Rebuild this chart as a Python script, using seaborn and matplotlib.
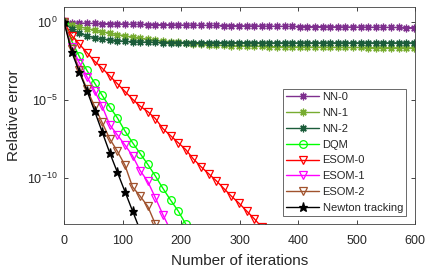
"""
Relative error vs. iterations (log scale) for the NN / DQM / ESOM / Newton tracking runs
"""

import matplotlib
matplotlib.use('Agg')
import matplotlib.pyplot as plt
import seaborn as sns
import numpy as np
import pandas as pd
from matplotlib.ticker import FixedLocator, LogFormatterSciNotation

# x positions of the plotted points (one marker every 13 iterations)
step = 13

# log10 of relative error
nn0 = [0.0, -0.03, -0.05, -0.06, -0.07, -0.08, -0.09, -0.10, -0.11, -0.12,
       -0.13, -0.14, -0.15, -0.15, -0.16, -0.17, -0.18, -0.18, -0.19, -0.20,
       -0.20, -0.21, -0.22, -0.22, -0.23, -0.23, -0.24, -0.25, -0.25, -0.26,
       -0.26, -0.27, -0.27, -0.28, -0.28, -0.29, -0.29, -0.30, -0.30, -0.31,
       -0.31, -0.32, -0.32, -0.33, -0.33, -0.34, -0.35]
nn1 = [0.0, -0.15, -0.28, -0.40, -0.50, -0.60, -0.70, -0.79, -0.87, -0.95,
       -1.02, -1.09, -1.15, -1.20, -1.25, -1.29, -1.33, -1.37, -1.41, -1.44,
       -1.47, -1.49, -1.51, -1.52, -1.53, -1.54, -1.55, -1.56, -1.57, -1.57,
       -1.58, -1.59, -1.59, -1.60, -1.60, -1.61, -1.61, -1.62, -1.62, -1.62,
       -1.63, -1.63, -1.63, -1.64, -1.64, -1.64, -1.65]
nn2 = [0.0, -0.45, -0.70, -0.87, -0.99, -1.07, -1.13, -1.18, -1.22, -1.25,
       -1.27, -1.28, -1.29, -1.30, -1.30, -1.30, -1.30, -1.31, -1.31, -1.31,
       -1.31, -1.31, -1.31, -1.31, -1.31, -1.31, -1.32, -1.32, -1.32, -1.32,
       -1.32, -1.32, -1.32, -1.32, -1.32, -1.32, -1.32, -1.32, -1.32, -1.32,
       -1.32, -1.32, -1.32, -1.32, -1.32, -1.32, -1.32]
dqm = [0.0, -1.2, -2.2, -3.1, -3.9, -4.7, -5.45, -6.15, -7.0, -7.75,
       -8.45, -9.15, -9.9, -10.7, -11.45, -12.15, -13.0, -13.8]
esom0 = [0.0, -0.85, -1.4, -1.95, -2.5, -2.95, -3.45, -3.95, -4.45, -4.95,
         -5.4, -5.75, -6.2, -6.85, -7.3, -7.75, -8.2, -8.8, -9.3, -9.75,
         -10.2, -10.7, -11.2, -11.65, -12.15, -12.65, -13.2]
esom1 = [0.0, -1.6, -2.6, -3.5, -4.4, -5.4, -6.6, -7.25, -7.9, -8.6,
         -9.55, -10.25, -11.3, -12.4, -13.4]
esom2 = [0.0, -1.7, -3.1, -4.3, -5.4, -6.45, -7.5, -8.3, -9.2, -10.6,
         -11.2, -11.85, -13.0, -13.9]
newton = [0.0, -1.9, -3.2, -4.4, -5.7, -7.05, -8.4, -9.65, -10.9, -12.15,
          -13.4]

labels = ['NN-0', 'NN-1', 'NN-2', 'DQM', 'ESOM-0', 'ESOM-1', 'ESOM-2', 'Newton tracking']
series = [nn0, nn1, nn2, dqm, esom0, esom1, esom2, newton]
colors = ['#7E2F8E', '#77AC30', '#1B5C3A', '#00FF00', '#FF0000', '#FF00FF', '#A0522D', '#000000']
markers = [(8, 2, 0), (8, 2, 0), (8, 2, 0), 'o', 'v', 'v', 'v', '*']

sns.set_style('ticks')
plt.rcParams['font.family'] = ['Liberation Sans', 'DejaVu Sans']
plt.rcParams['mathtext.fontset'] = 'custom'
plt.rcParams['mathtext.rm'] = 'Liberation Sans'
plt.rcParams['axes.unicode_minus'] = False

fig, ax = plt.subplots(figsize=(4.36, 2.73), dpi=100)
fig.subplots_adjust(left=0.147, right=0.952, top=0.975, bottom=0.179)

for vals, lab, col, mk in zip(series, labels, colors, markers):
    df = pd.DataFrame({'iter': np.arange(len(vals)) * step,
                       'err': 10.0 ** np.array(vals)})
    filled = mk == '*'
    sns.lineplot(data=df, x='iter', y='err', ax=ax, color=col, label=lab,
                 marker=mk, markersize=6.5 if filled else 5.5,
                 markerfacecolor=col if filled else 'none',
                 markeredgecolor=col, markeredgewidth=0.9, linewidth=1.0)

ax.set_yscale('log')
ax.set_xlim(0, 600)
ax.set_ylim(1e-13, 1e1)
ax.set_xticks(range(0, 601, 100))
ax.yaxis.set_major_locator(FixedLocator([1e-10, 1e-5, 1e0]))
ax.yaxis.set_major_formatter(LogFormatterSciNotation())
ax.yaxis.set_minor_locator(FixedLocator([]))

ax.tick_params(direction='in', top=True, right=True, length=3, width=0.6,
               labelsize=9, colors='#262626')
ax.tick_params(axis='x', pad=8)
ax.tick_params(axis='y', pad=5)
for sp in ax.spines.values():
    sp.set_color('#404040')
    sp.set_linewidth(0.6)

ax.set_xlabel('Number of iterations', fontsize=11, color='#262626', labelpad=5)
ax.set_ylabel('Relative error', fontsize=11, color='#262626', labelpad=4)

leg = ax.legend(loc='lower right', bbox_to_anchor=(0.975, 0.037), fontsize=8,
                frameon=True, fancybox=False, edgecolor='#262626',
                handlelength=3.0, handletextpad=0.3, labelspacing=0.52,
                borderpad=0.3, borderaxespad=0)
leg.get_frame().set_linewidth(0.6)

plt.savefig('out.png', dpi=100)
plt.close()
